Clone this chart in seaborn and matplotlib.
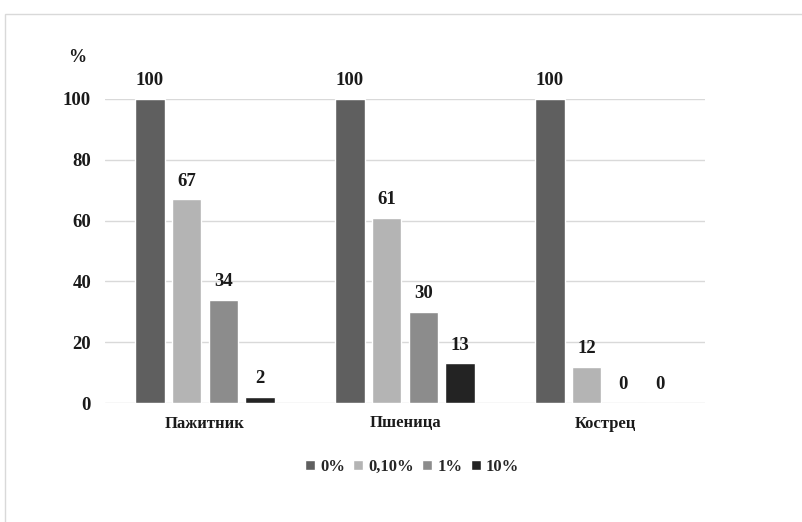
import matplotlib
matplotlib.use("Agg")
import matplotlib.pyplot as plt
from matplotlib.patches import Rectangle
import pandas as pd
import seaborn as sns

crops = ["Пажитник", "Пшеница", "Кострец"]
concentrations = ["0%", "0,10%", "1%", "10%"]
values_0 = [100, 100, 100]
values_010 = [67, 61, 12]
values_1 = [34, 30, 0]
values_10 = [2, 13, 0]
yticks = [0, 20, 40, 60, 80, 100]

colors = ["#5f5f5f", "#b4b4b4", "#8c8c8c", "#232323"]

rows = []
for conc, vals in zip(concentrations, [values_0, values_010, values_1, values_10]):
    for crop, v in zip(crops, vals):
        rows.append({"crop": crop, "conc": conc, "value": v})
df = pd.DataFrame(rows)

sns.set_theme(style="white")
plt.rcParams["font.family"] = ["Liberation Serif", "DejaVu Serif"]
plt.rcParams["font.weight"] = "bold"

W, H = 803, 522
fig = plt.figure(figsize=(W / 100, H / 100), dpi=100)
fig.patch.set_facecolor("white")
ax = fig.add_axes([105 / W, 1 - 403 / H, 600 / W, 304 / H])

sns.barplot(data=df, x="crop", y="value", hue="conc", order=crops,
            hue_order=concentrations, palette=colors, width=0.735, gap=0.2,
            saturation=1, ax=ax, errorbar=None)

for c in ax.containers:
    ax.bar_label(c, fmt="%g", padding=7, fontsize=13.5, fontweight="bold",
                 color="#1a1a1a")

ax.set_xlim(-0.5, 2.5)
ax.set_ylim(0, 100)
ax.set_yticks(yticks)
ax.yaxis.grid(True, color="#d9d9d9", lw=1)
ax.set_axisbelow(True)
for s in ax.spines.values():
    s.set_visible(False)
ax.tick_params(axis="y", length=0, pad=10, labelsize=13.5, labelcolor="#1a1a1a")
ax.tick_params(axis="x", length=0, pad=9, labelsize=12, labelcolor="#1a1a1a")
for lab in ax.get_xticklabels() + ax.get_yticklabels():
    lab.set_fontweight("bold")
ax.set_xlabel("")
ax.set_ylabel("")

handles, labels = ax.get_legend_handles_labels()
ax.get_legend().remove()
fig.legend(handles, labels, loc="center", bbox_to_anchor=(412 / W, 1 - 467 / H),
           ncol=4, frameon=False, handlelength=0.6,
           handleheight=0.6, handletextpad=0.3, columnspacing=0.5,
           prop={"weight": "bold", "size": 12})

fig.text(77 / W, 1 - 58 / H, "%", ha="center", va="center", fontsize=13,
         fontweight="bold", color="#1a1a1a")

fig.add_artist(Rectangle((5 / W, -0.05), 1.1, 1 - 14 / H + 0.05,
                         transform=fig.transFigure, fill=False,
                         edgecolor="#d9d9d9", lw=1))

fig.savefig("out.png", dpi=100, facecolor="white")
